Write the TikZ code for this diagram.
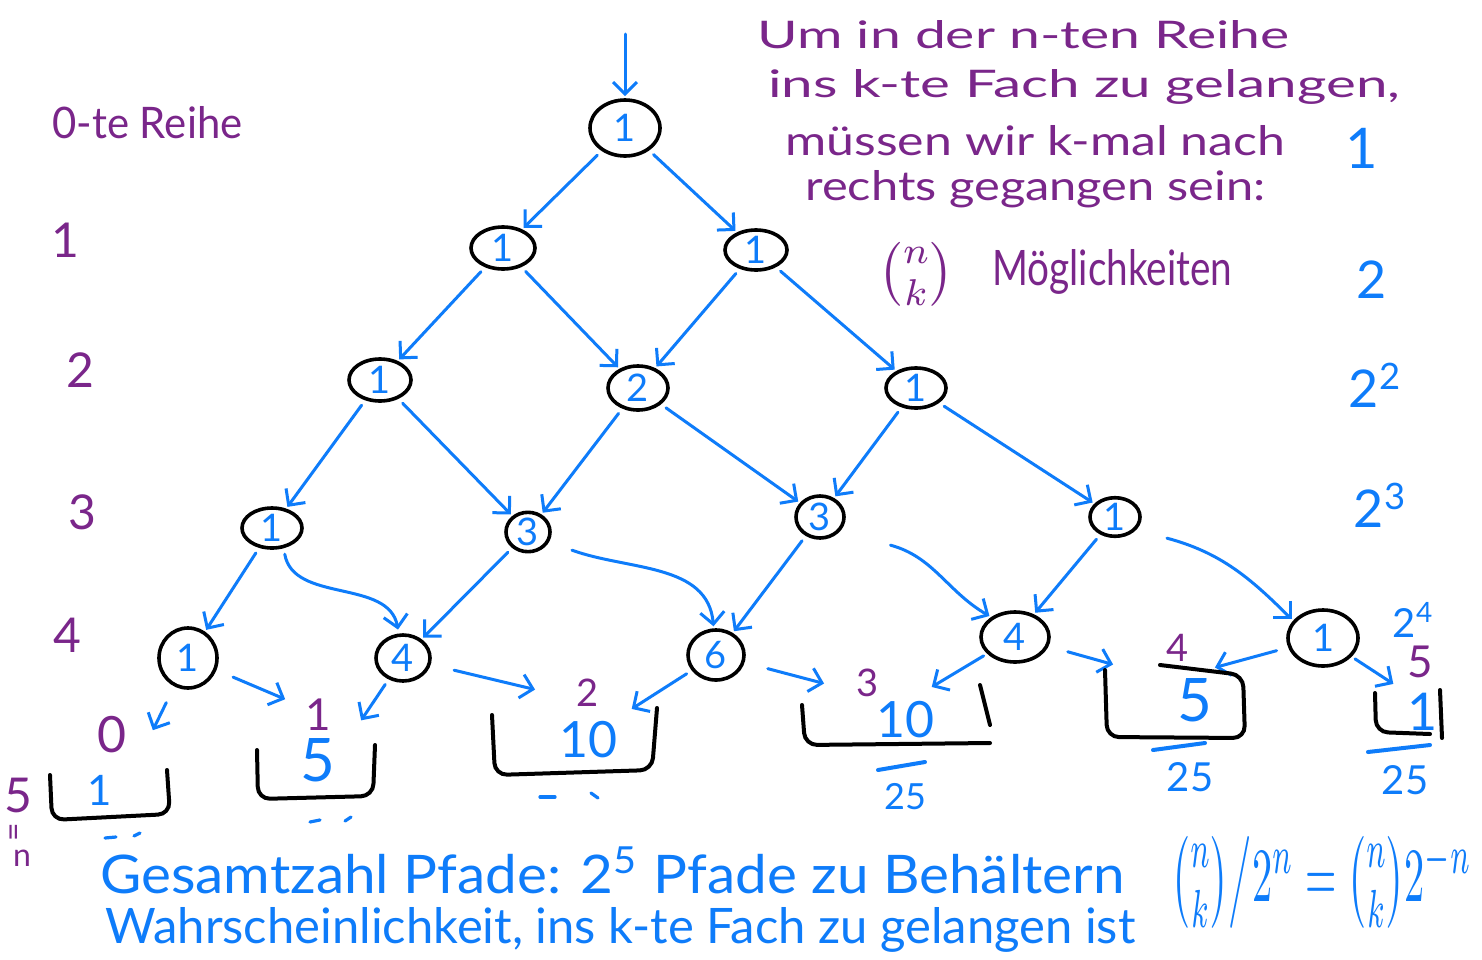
\documentclass[tikz,border=0pt]{standalone}
\usepackage{fontspec}
\usepackage{amsmath}
\usepackage{graphicx}
\setmainfont{Lato}
\usetikzlibrary{shapes.geometric,arrows.meta}
\definecolor{hblue}{RGB}{14,124,250}
\definecolor{hpurple}{RGB}{122,38,138}
\tikzset{
  pin/.style={ellipse, draw=black, line width=1.8pt, inner sep=0pt, text=hblue,
    font=\fontsize{19}{19}\selectfont},
  edge/.style={draw=hblue, line width=1.5pt, line cap=round,
    -{Straight Barb[length=6pt,width=12pt,line width=1.5pt]}, shorten <=3pt, shorten >=1pt},
  bin/.style={draw=black, line width=2pt, line cap=round, rounded corners=6pt},
  ptext/.style={text=hpurple, inner sep=0pt},
  btext/.style={text=hblue, inner sep=0pt},
  tick/.style={draw=hblue, line width=1.6pt, line cap=round},
  fline/.style={draw=hblue, line width=2pt, line cap=round}
}
\newcommand{\fs}[1]{\fontsize{#1}{#1}\selectfont}
\begin{document}
\begin{tikzpicture}[x=0.5pt,y=-0.5pt]
\useasboundingbox (0,0) rectangle (1482,959);
\fill[white] (0,0) rectangle (1482,959);

% pins
\node[pin, minimum width=35pt, minimum height=28pt] (r0) at (625,128) {1};
\node[pin, minimum width=32pt, minimum height=21pt] (r1a) at (503,248) {1};
\node[pin, minimum width=31pt, minimum height=20pt] (r1b) at (756,250) {1};
\node[pin, minimum width=31pt, minimum height=21pt] (r2a) at (380,380) {1};
\node[pin, minimum width=30pt, minimum height=22pt] (r2b) at (638,388) {2};
\node[pin, minimum width=30pt, minimum height=20pt] (r2c) at (916,388) {1};
\node[pin, minimum width=30pt, minimum height=20pt] (r3a) at (272,528) {1};
\node[pin, minimum width=22pt, minimum height=18pt] (r3b) at (528,532) {3};
\node[pin, minimum width=24pt, minimum height=21pt] (r3c) at (820,517) {3};
\node[pin, minimum width=25pt, minimum height=19pt] (r3d) at (1115,517) {1};
\node[pin, minimum width=29pt, minimum height=30pt] (r4a) at (188,658) {1};
\node[pin, minimum width=27pt, minimum height=23pt] (r4b) at (403,658) {4};
\node[pin, minimum width=28pt, minimum height=25pt] (r4c) at (716,655) {6};
\node[pin, minimum width=34pt, minimum height=25pt] (r4d) at (1015,637) {4};
\node[pin, minimum width=35pt, minimum height=28pt] (r4e) at (1323,638) {1};

% entry arrow
\coordinate (top) at (625,28);
\draw[edge] (top) -- (r0);

% tree edges
\draw[edge] (r0) -- (r1a);
\draw[edge] (r0) -- (r1b);
\draw[edge] (r1a) -- (r2a);
\draw[edge] (r1a) -- (r2b);
\draw[edge] (r1b) -- (r2b);
\draw[edge] (r1b) -- (r2c);
\draw[edge] (r2a) -- (r3a);
\draw[edge] (r2a) -- (r3b);
\draw[edge] (r2b) -- (r3b);
\draw[edge] (r2b) -- (r3c);
\draw[edge] (r2c) -- (r3c);
\draw[edge] (r2c) -- (r3d);
\draw[edge] (r3a) -- (r4a);
\draw[edge, shorten >=2pt] (r3a.-60) to[out=-80,in=100] (r4b.100);
\draw[edge] (r3b) -- (r4b);
\path (r3b.-10) ++(15,12) coordinate (s3b);
\draw[edge] (s3b) to[out=-20,in=95] (r4c.95);
\draw[edge] (r3c) -- (r4c);
\path (r3c.-15) ++(40,20) coordinate (s3c);
\draw[edge] (s3c) to[out=-15,in=150] (r4d.140);
\draw[edge] (r3d) -- (r4d);
\path (r3d.-10) ++(20,15) coordinate (s3d);
\draw[edge] (s3d) to[out=-15,in=135] (r4e.150);

% arrows into bins
\coordinate (a0) at (152,732);
\coordinate (a1l) at (287,700);
\coordinate (a1r) at (360,722);
\coordinate (a2l) at (537,690);
\coordinate (a2r) at (630,710);
\coordinate (a3l) at (826,684);
\coordinate (a3r) at (930,688);
\coordinate (a4l) at (1115,665);
\coordinate (a4r) at (1213,668);
\coordinate (a5) at (1395,685);
\draw[edge, shorten <=9pt] (r4a) -- (a0);
\draw[edge, shorten <=9pt] (r4a) -- (a1l);
\draw[edge, shorten <=3pt] (r4b) -- (a1r);
\draw[edge, shorten <=12pt] (r4b) -- (a2l);
\draw[edge, shorten <=3pt] (r4c) -- (a2r);
\draw[edge, shorten <=12pt] (r4c) -- (a3l);
\draw[edge, shorten <=2pt] (r4d) -- (a3r);
\draw[edge, shorten <=10pt] (r4d) -- (a4l);
\draw[edge, shorten <=6pt] (r4e) -- (a4r);
\draw[edge, shorten <=2pt] (r4e) -- (a5);

% bins
\draw[bin] (50,775) -- (52,820) -- (170,814) -- (167,770);
\draw[bin] (257,750) -- (258,799) -- (373,796) -- (375,745);
\draw[bin] (492,715) -- (495,775) -- (652,770) -- (657,708);
\draw[bin] (802,705) -- (805,745) -- (990,743);
\draw[bin, rounded corners=0pt] (980,685) -- (990,725);
\draw[bin] (1105,670) -- (1107,737) -- (1245,738) -- (1243,675) -- (1160,665);
\draw[bin] (1375,693) -- (1376,732) -- (1430,734);
\draw[bin, rounded corners=0pt] (1440,690) -- (1442,738);

% bin contents
\node[btext, font=\fs{21}] (c0) at (100,790) {1};
\node[btext, font=\fs{30}] (c1) at (318,760) {5};
\node[btext, font=\fs{25}] (c2) at (588,740) {10};
\node[btext, font=\fs{25}] (c3) at (905,720) {10};
\node[btext, font=\fs{30}] (c4) at (1195,700) {5};
\node[btext, font=\fs{26}] (c5) at (1423,712) {1};

% bin labels
\node[ptext, font=\fs{25}] (l0) at (112,735) {0};
\node[ptext, font=\fs{22}] (l1) at (318,715) {1};
\node[ptext, font=\fs{19}] (l2) at (588,693) {2};
\node[ptext, font=\fs{19}] (l3) at (868,683) {3};
\node[ptext, font=\fs{19}] (l4) at (1178,648) {4};
\node[ptext, font=\fs{22}] (l5) at (1420,662) {5};

% fractions /25
\draw[fline] (878,770) -- (925,762);
\node[btext, font=\fs{18}] (f3) at (905,797) {25};
\draw[fline] (1153,750) -- (1205,743);
\node[btext, font=\fs{20}] (f4) at (1190,777) {25};
\draw[fline] (1368,752) -- (1430,745);
\node[btext, font=\fs{20}] (f5) at (1405,780) {25};

% unfinished marks
\draw[tick] (105,838) -- (116,837);
\draw[tick] (134,836) -- (140,833);
\draw[tick] (310,822) -- (320,820);
\draw[tick] (345,821) -- (351,817);
\draw[tick] (540,797) -- (555,797);
\draw[tick] (591,793) -- (598,798);

% left row labels
\node[ptext, anchor=base west] (t0) at (52,138) {\resizebox{95pt}{16pt}{0-te Reihe}};
\node[ptext, font=\fs{24}] (n1) at (65,240) {1};
\node[ptext, font=\fs{24}] (n2) at (80,370) {2};
\node[ptext, font=\fs{24}] (n3) at (82,512) {3};
\node[ptext, font=\fs{24}] (n4) at (67,635) {4};
\node[ptext, font=\fs{24}] (n5) at (18,795) {5};
\node[ptext, font=\fs{16}] (n5a) at (17,832) {\rotatebox{90}{=}};
\node[ptext, font=\fs{16}] (n5b) at (22,858) {n};

% right column powers
\node[btext, font=\fs{28}] (p0) at (1362,148) {1};
\node[btext, font=\fs{26}] (p1) at (1372,280) {2};
\node[btext, font=\fs{26}] (p2) at (1375,385) {2\textsuperscript{2}};
\node[btext, font=\fs{26}] (p3) at (1380,505) {2\textsuperscript{3}};
\node[btext, font=\fs{20}] (p4) at (1413,620) {2\textsuperscript{4}};

% top explanation
\node[ptext, anchor=base west] (e1) at (757,48) {\resizebox{266pt}{14pt}{Um in der n-ten Reihe}};
\node[ptext, anchor=base west] (e2) at (768,97) {\resizebox{316pt}{14pt}{ins k-te Fach zu gelangen,}};
\node[ptext, anchor=base west] (e3) at (785,155) {\resizebox{250pt}{15pt}{müssen wir k-mal nach}};
\node[ptext, anchor=base west] (e4) at (805,200) {\resizebox{230pt}{15pt}{rechts gegangen sein:}};
\node[ptext] (e5a) at (916,274) {\resizebox*{!}{32pt}{$\binom{n}{k}$}};
\node[ptext, anchor=base west] (e5b) at (992,285) {\resizebox{120pt}{18pt}{Möglichkeiten}};

% bottom text
\node[btext, anchor=base west] (g1) at (100,893) {\resizebox{512pt}{23pt}{Gesamtzahl Pfade: 2\textsuperscript{5} Pfade zu Behältern}};
\node[btext, anchor=base west] (g2) at (105,943) {\resizebox{515pt}{18pt}{Wahrscheinlichkeit, ins k-te Fach zu gelangen ist}};
\node[btext] (g3) at (1322,882) {\resizebox*{150pt}{46pt}{$\binom{n}{k}\big/2^n=\binom{n}{k}2^{-n}$}};
\end{tikzpicture}
\end{document}
